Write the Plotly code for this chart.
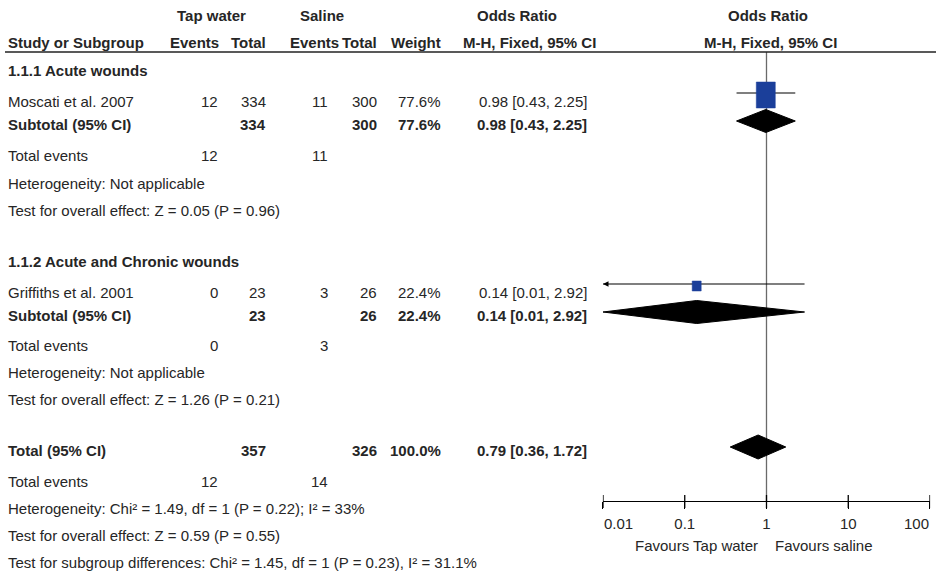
import plotly.graph_objects as go
import math

# ---------------- data ----------------
subgroups = ["1.1.1 Acute wounds", "1.1.2 Acute and Chronic wounds"]
studies = ["Moscati et al. 2007", "Griffiths et al. 2001"]
tap_events = [12, 0]
tap_total = [334, 23]
sal_events = [11, 3]
sal_total = [300, 26]
weights = ["77.6%", "22.4%"]
or_est = [0.98, 0.14]
or_lo = [0.43, 0.01]
or_hi = [2.25, 2.92]
sub_heterogeneity = ["Heterogeneity: Not applicable", "Heterogeneity: Not applicable"]
sub_overall = ["Test for overall effect: Z = 0.05 (P = 0.96)", "Test for overall effect: Z = 1.26 (P = 0.21)"]

total_tap_total = 357
total_sal_total = 326
total_tap_events = 12
total_sal_events = 14
total_weight = "100.0%"
total_est = 0.79
total_lo = 0.36
total_hi = 1.72
total_heterogeneity = "Heterogeneity: Chi² = 1.49, df = 1 (P = 0.22); I² = 33%"
total_overall = "Test for overall effect: Z = 0.59 (P = 0.55)"
subgroup_diff = "Test for subgroup differences: Chi² = 1.45, df = 1 (P = 0.23), I² = 31.1%"

tick_vals = [0.01, 0.1, 1, 10, 100]
tick_labels = ["0.01", "0.1", "1", "10", "100"]
favours_left = "Favours Tap water"
favours_right = "Favours saline"

# ---------------- layout / style ----------------
W, H = 936, 572
FONT = "Liberation Sans, Arial, sans-serif"
FS = 15
TXT = "#262626"
SQ_COLOR = "#1b3f9a"

X0_PX, X1_PX = 603, 930            # forest axis span
AXIS_Y = 501                       # forest axis row
TICKLABEL_Y = 523                  # row of the end tick labels
DEC_PX = (X1_PX - X0_PX) / 4.0     # pixels per decade
EPS = 0.002                        # tiny range pad so end ticks are kept

# row positions (text centres)
row_header1, row_header2 = 15, 42
sub_rows = [
    dict(title=70, study=101, subtotal=124, events=155, het=183, overall=210),
    dict(title=261, study=292, subtotal=315, events=345, het=372, overall=399),
]
row_total, row_tevents, row_thet, row_toverall, row_diff = 450, 481, 508, 535, 562
square_px = [(19, 26), (9, 10)]   # (w,h) of study squares

# column positions
c_label = 7
c_tev, c_ttot, c_sev, c_stot, c_w, c_or = 219, 267, 329, 378, 442, 588

fig = go.Figure()


def txt(x, y, s, anchor="left", bold=False, size=FS):
    fig.add_annotation(x=x / W, y=y, xref="paper", yref="y",
                       text=f"<b>{s}</b>" if bold else s, showarrow=False,
                       xanchor=anchor, yanchor="middle", borderpad=0,
                       font=dict(family=FONT, size=size, color=TXT))


# headers
txt(211, row_header1, "Tap water", "center", True)
txt(322, row_header1, "Saline", "center", True)
txt(517, row_header1, "Odds Ratio", "center", True)
txt(768, row_header1, "Odds Ratio", "center", True)
txt(c_label, row_header2, "Study or Subgroup", "left", True)
txt(220, row_header2, "Events", "right", True)
txt(267, row_header2, "Total", "right", True)
txt(340, row_header2, "Events", "right", True)
txt(378, row_header2, "Total", "right", True)
txt(442, row_header2, "Weight", "right", True)
txt(529, row_header2, "M-H, Fixed, 95% CI", "center", True)
txt(770, row_header2, "M-H, Fixed, 95% CI", "center", True)

fig.add_shape(type="line", xref="paper", yref="y", x0=5 / W, x1=1, y0=52, y1=52,
              line=dict(color="#222222", width=1.5))


def fmt_ci(e, l, h):
    return f"{e:.2f} [{l:.2f}, {h:.2f}]"


# vertical line of no effect
fig.add_trace(go.Scatter(x=[1, 1], y=[52, AXIS_Y], mode="lines",
                         line=dict(color="#6a6a6a", width=1.3), hoverinfo="skip"))


def diamond(est, lo, hi, yc, hh=11.5):
    fig.add_trace(go.Scatter(x=[lo, est, hi, est, lo], y=[yc, yc - hh, yc, yc + hh, yc],
                             mode="lines", fill="toself", fillcolor="black",
                             line=dict(color="black", width=1), hoverinfo="skip",
                             cliponaxis=False))


for i in range(len(studies)):
    r = sub_rows[i]
    txt(c_label, r["title"], subgroups[i], "left", True)
    # study row
    txt(c_label, r["study"], studies[i])
    txt(c_tev, r["study"], str(tap_events[i]), "right")
    txt(c_ttot, r["study"], str(tap_total[i]), "right")
    txt(c_sev, r["study"], str(sal_events[i]), "right")
    txt(c_stot, r["study"], str(sal_total[i]), "right")
    txt(c_w, r["study"], weights[i], "right")
    txt(c_or, r["study"], fmt_ci(or_est[i], or_lo[i], or_hi[i]), "right")
    # subtotal row
    txt(c_label, r["subtotal"], "Subtotal (95% CI)", "left", True)
    txt(c_ttot, r["subtotal"], str(tap_total[i]), "right", True)
    txt(c_stot, r["subtotal"], str(sal_total[i]), "right", True)
    txt(c_w, r["subtotal"], weights[i], "right", True)
    txt(c_or, r["subtotal"], fmt_ci(or_est[i], or_lo[i], or_hi[i]), "right", True)
    # events / tests
    txt(c_label, r["events"], "Total events")
    txt(c_tev, r["events"], str(tap_events[i]), "right")
    txt(c_sev, r["events"], str(sal_events[i]), "right")
    txt(c_label, r["het"], sub_heterogeneity[i])
    txt(c_label, r["overall"], sub_overall[i])

    # forest marks
    ly = r["study"] - 8
    lo_clip = max(or_lo[i], tick_vals[0])
    fig.add_trace(go.Scatter(x=[lo_clip, or_hi[i]], y=[ly, ly], mode="lines",
                             line=dict(color="black", width=1.2), hoverinfo="skip",
                             cliponaxis=False))
    if or_lo[i] <= tick_vals[0]:
        fig.add_trace(go.Scatter(x=[lo_clip], y=[ly], mode="markers",
                                 marker=dict(symbol="arrow-left", size=5.5, color="black",
                                             line=dict(width=0)),
                                 hoverinfo="skip", cliponaxis=False))
    sw, sh = square_px[i]
    hw = (sw / 2) / DEC_PX
    sy = r["study"] - 6
    xl, xr = or_est[i] * 10 ** (-hw), or_est[i] * 10 ** hw
    fig.add_trace(go.Scatter(x=[xl, xr, xr, xl, xl],
                             y=[sy - sh / 2, sy - sh / 2, sy + sh / 2, sy + sh / 2, sy - sh / 2],
                             mode="lines", fill="toself", fillcolor=SQ_COLOR,
                             line=dict(color=SQ_COLOR, width=0.5), hoverinfo="skip"))
    diamond(or_est[i], or_lo[i], or_hi[i], r["subtotal"] - 3)

# overall
txt(c_label, row_total, "Total (95% CI)", "left", True)
txt(c_ttot, row_total, str(total_tap_total), "right", True)
txt(c_stot, row_total, str(total_sal_total), "right", True)
txt(c_w, row_total, total_weight, "right", True)
txt(c_or, row_total, fmt_ci(total_est, total_lo, total_hi), "right", True)
txt(c_label, row_tevents, "Total events")
txt(c_tev, row_tevents, str(total_tap_events), "right")
txt(c_sev, row_tevents, str(total_sal_events), "right")
txt(c_label, row_thet, total_heterogeneity)
txt(c_label, row_toverall, total_overall)
txt(c_label, row_diff, subgroup_diff)
diamond(total_est, total_lo, total_hi, row_total - 3, 12)

# full-height axis ticks (crossing the axis line)
tx, ty = [], []
for t in tick_vals:
    tx += [t, t, None]
    ty += [AXIS_Y - 6, AXIS_Y + 7, None]
fig.add_trace(go.Scatter(x=tx, y=ty, mode="lines", line=dict(color="black", width=1.3),
                         hoverinfo="skip", cliponaxis=False))

txt(759, 545, favours_left, "right")
txt(774, 545, favours_right, "left")

# end tick labels are kept inside the axis span (left- / right-aligned to the end ticks)
tick_text = list(tick_labels)
tick_text[0] = ""
tick_text[-1] = ""
for val, lab, anc in [(tick_vals[0], tick_labels[0], "left"), (tick_vals[-1], tick_labels[-1], "right")]:
    fig.add_annotation(x=math.log10(val), y=TICKLABEL_Y, xref="x", yref="y", text=lab,
                       showarrow=False, xanchor=anc, yanchor="middle", borderpad=0,
                       font=dict(family=FONT, size=FS, color=TXT))

lo_r, hi_r = math.log10(tick_vals[0]), math.log10(tick_vals[-1])
pad_px = EPS * DEC_PX

fig.update_layout(
    template="none",
    width=W, height=H, margin=dict(l=0, r=0, t=0, b=0, pad=0, autoexpand=False),
    paper_bgcolor="white", plot_bgcolor="white", showlegend=False,
    xaxis=dict(type="log", range=[lo_r - EPS, hi_r + EPS],
               domain=[(X0_PX - pad_px) / W, (X1_PX + pad_px) / W],
               anchor="free", position=(H - AXIS_Y) / H,
               automargin=False,
               showline=True, linecolor="black", linewidth=1.3,
               ticks="outside", ticklen=7, tickwidth=1.3, tickcolor="black",
               tickvals=tick_vals, ticktext=tick_text, showgrid=False, zeroline=False,
               tickfont=dict(family=FONT, size=FS, color=TXT), ticklabelstandoff=2,
               ticklabeloverflow="allow", fixedrange=True),
    yaxis=dict(range=[H, 0], domain=[0, 1], visible=False, showgrid=False,
               automargin=False, zeroline=False, fixedrange=True),
)

fig.write_html(
    "out.html",
    config={"displayModeBar": False},
    post_script="document.body.style.margin='0';document.body.style.overflow='hidden';",
)
